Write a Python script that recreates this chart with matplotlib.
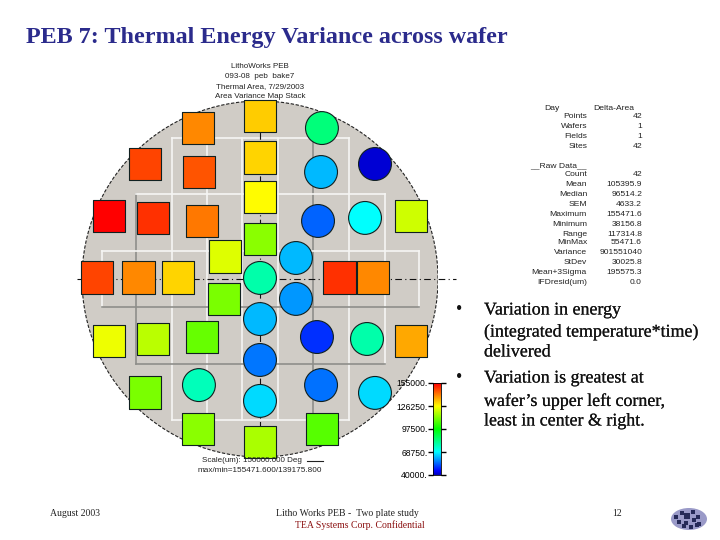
"""
PEB thermal energy wafer map slide
"""

import matplotlib
matplotlib.use('Agg')
import matplotlib.pyplot as plt
import matplotlib.patheffects as pe
import numpy as np
from matplotlib.colors import LinearSegmentedColormap
from matplotlib.patches import Circle, Ellipse

# Site positions on the wafer (mm from centre) and measured energy
site_x = [0, -34.8, 34.8, -64.6, -34.3, 0, 34.3, 64.6, -84.8, -60.1, -32.6, 0, 32.6, 59.0,
          84.8, 0, -19.7, 20.2, -91.6, -68.5, -46.1, 0, 44.9, 63.5, -20.2, 20.2, 0, -84.8,
          -60.1, -32.6, 32.0, 60.1, 84.8, 0, -64.6, -34.3, 34.3, 64.6, 0, -34.8, 34.8, 0]
site_y = [91.6, 84.8, 84.8, 64.6, 60.1, 68.5, 60.1, 64.6, 35.4, 34.3, 32.6, 46.1, 32.6, 34.3,
          35.4, 22.5, 12.4, 11.8, 0.6, 0.6, 0.6, 0.6, 0.6, 0.6, -11.2, -11.2, -22.5, -34.8,
          -33.7, -32.6, -32.6, -33.7, -34.8, -45.5, -64.0, -59.6, -59.6, -64.0, -68.5, -84.3,
          -84.3, -91.6]
site_energy = [132000, 139700, 83700, 147300, 145400, 130900, 62300, 42000, 155000, 149250,
               141500, 126250, 54300, 68750, 120500, 112800, 122500, 62300, 147300, 139700,
               130900, 78300, 149250, 139700, 111000, 59100, 62300, 124300, 118500, 109000,
               49400, 78300, 135800, 55900, 111000, 76400, 55500, 65500, 65500, 112800,
               107000, 116700]

# Exposure field outline on the wafer (mm)
field_x = [-89, -69.5, -49.5, -30, -10, 10, 30, 50, 70, 89.5]
field_y = [79, 47.5, 16, -16, -47.5, -79]

scale_ticks = [40000, 68750, 97500, 126250, 155000]
scale_labels = ['40000.', '68750.', '97500.', '126250.', '155000.']

header_lines = ['LithoWorks PEB', '093-08  peb  bake7', 'Thermal Area, 7/29/2003',
                'Area Variance Map Stack']
stat_labels = ['Day', 'Points', 'Wafers', 'Fields', 'Sites', '__Raw Data__', 'Count', 'Mean',
               'Median', 'SEM', 'Maximum', 'Minimum', 'Range', 'MinMax', 'Variance', 'StDev',
               'Mean+3Sigma', 'IFDresid(um)']
stat_values = ['Delta-Area', '42', '1', '1', '42', '', '42', '105395.9', '96514.2', '4633.2',
               '155471.6', '38156.8', '117314.8', '55471.6', '901551040', '30025.8',
               '195575.3', '0.0']
stat_rows = [108, 117, 127, 136, 146, 166, 174, 184, 194, 204, 214, 224, 234, 243, 253, 263,
             273, 283]

bullet_lines = [(310, 'Variation in energy'), (332, '(integrated temperature*time)'),
                (352, 'delivered'), (378, 'Variation is greatest at'),
                (401, 'wafer\u2019s upper left corner,'), (421, 'least in center & right.')]

# Logo blotches: offset from logo centre in pixels, and size
logo_dx = [-13, -7, -2, 4, 9, -10, -3, 5, 10, -5, 2, 8]
logo_dy = [-2, -6, -3, -7, -2, 3, 4, 1, 5, 7, 8, 6]
logo_size = [10, 8, 14, 8, 10, 8, 12, 10, 6, 6, 8, 5]

jet_map = LinearSegmentedColormap.from_list('wafer', [
    (0.0, '#0000b8'), (0.04, '#0000ff'), (0.25, '#00ffff'), (0.5, '#00ff00'),
    (0.75, '#ffff00'), (1.0, '#ff0000')])

plt.rcParams['font.family'] = ['Liberation Sans', 'DejaVu Sans']

fig = plt.figure(figsize=(7.2, 5.4), dpi=100)

# Wafer axes: 100 mm radius is 178 px
ax = fig.add_axes([82 / 720, (540 - 457) / 540, 356 / 720, 356 / 540])
ax.set_xlim(-100, 100)
ax.set_ylim(-100, 100)
ax.axis('off')

ax.add_patch(Circle((0, 0), 100, facecolor='#d0ccc6', edgecolor='#222222', linewidth=0.8,
                    linestyle=(0, (3, 1.5)), zorder=1))

# Field outline, white from the top left and grey on the lower right
grey_cols = [1, 6]
grey_rows = [3, 4]
rows_span = [(2, 3), (1, 4), (0, 5), (0, 5), (0, 5), (0, 5), (0, 5), (0, 5), (1, 4), (2, 3)]
cols_span = [(2, 7), (1, 8), (0, 9), (0, 9), (1, 8), (2, 7)]
for i, x in enumerate(field_x):
    top, bottom = rows_span[i]
    ax.plot([x, x], [field_y[top], field_y[bottom]], lw=1.2, zorder=2,
            color='#8e8e8a' if i in grey_cols else '#f6f6f4')
for i, y in enumerate(field_y):
    left, right = cols_span[i]
    ax.plot([field_x[left], field_x[right]], [y, y], lw=1.2, zorder=2,
            color='#8e8e8a' if i in grey_rows else '#f6f6f4')

# Centre lines
ax.plot([0, 0], [-100, 100], color='#111111', lw=0.8, ls=(0, (6, 3, 1, 3)), zorder=3)
ax.plot([-103, 110], [0, 0], color='#111111', lw=0.8, ls=(0, (6, 3, 1, 3)), zorder=3,
        clip_on=False)

# Sites above the mid scale are squares, the others circles
xs = np.array(site_x)
ys = np.array(site_y)
energy = np.array(site_energy)
high = energy >= 97500
for mask, marker in [(high, 's'), (~high, 'o')]:
    ax.scatter(xs[mask], ys[mask], c=energy[mask], cmap=jet_map, vmin=40000, vmax=155000,
               marker=marker, s=560, edgecolors='#102020', linewidths=0.8, clip_on=False,
               zorder=4)

# Colour scale
cax = fig.add_axes([433 / 720, (540 - 475) / 540, 8 / 720, 92 / 540])
gradient = np.linspace(40000, 155000, 200).reshape(-1, 1)
cax.imshow(gradient, aspect='auto', origin='lower', cmap=jet_map, vmin=40000, vmax=155000,
           extent=[0, 1, 40000, 155000])
cax.set_xticks([])
cax.set_yticks(scale_ticks)
cax.set_yticklabels(scale_labels, fontsize=6.2)
cax.tick_params(axis='y', which='both', left=True, right=True, length=3.5, width=1,
                pad=0.2, color='black')
for spine in cax.spines.values():
    spine.set_linewidth(0.6)

# Overlay in pixel coordinates for slide text
over = fig.add_axes([0, 0, 1, 1], facecolor='none')
over.set_xlim(0, 720)
over.set_ylim(540, 0)
over.axis('off')

serif = ['Liberation Serif', 'DejaVu Serif']
over.text(26, 37, 'PEB 7: Thermal Energy Variance across wafer', family=serif, fontsize=17.35,
          fontweight='bold', va='center', color='#2b2b8c')

for row, line in zip([67, 77, 87, 97], header_lines):
    over.text(260, row, line, fontsize=5.8, ha='center', va='center', color='#222222')

over.text(252, 461, 'Scale(um): 150000.000 Deg', fontsize=5.8, ha='center', va='center',
          color='#222222')
over.plot([307, 323], [461, 461], color='#222222', lw=0.8)
over.text(260, 470, 'max/min=155471.600/139175.800', fontsize=5.9, ha='center', va='center',
          color='#222222')

for row, label, value in zip(stat_rows, stat_labels, stat_values):
    if label == 'Day':
        over.text(552, row, label, fontsize=6.1, ha='center', va='center', color='#222222')
        over.text(634, row, value, fontsize=6.1, ha='right', va='center', color='#222222')
        continue
    over.text(587, row, label, fontsize=6.1, ha='right', va='center', color='#222222')
    over.text(642, row, value, fontsize=6.1, ha='right', va='center', color='#222222')

for row in [310, 378]:
    over.text(459, row, '\u2022', family=serif, fontsize=13, ha='center', va='center',
              color='#111111')
for row, line in bullet_lines:
    over.text(484, row, line, family=serif, fontsize=12.9, va='center', color='#111111',
              path_effects=[pe.withStroke(linewidth=0.1, foreground='#111111')])

over.text(75, 513, 'August 2003', family=serif, fontsize=7, ha='center', va='center',
          color='#222222')
over.text(347, 513, 'Litho Works PEB -  Two plate study', family=serif, fontsize=7,
          ha='center', va='center', color='#222222')
over.text(360, 525, 'TEA Systems Corp. Confidential', family=serif, fontsize=7, ha='center',
          va='center', color='#8b1010')
over.text(617, 513, '12', family=serif, fontsize=7, ha='center', va='center', color='#222222')

# Small logo
over.add_patch(Ellipse((689, 519), 36, 22, facecolor='#9a9ac8', edgecolor='none'))
over.scatter(np.array(logo_dx) + 689, np.array(logo_dy) + 519, s=logo_size, c='#262a58',
             marker='s', linewidths=0)

plt.savefig('out.png', dpi=100)
plt.close()
